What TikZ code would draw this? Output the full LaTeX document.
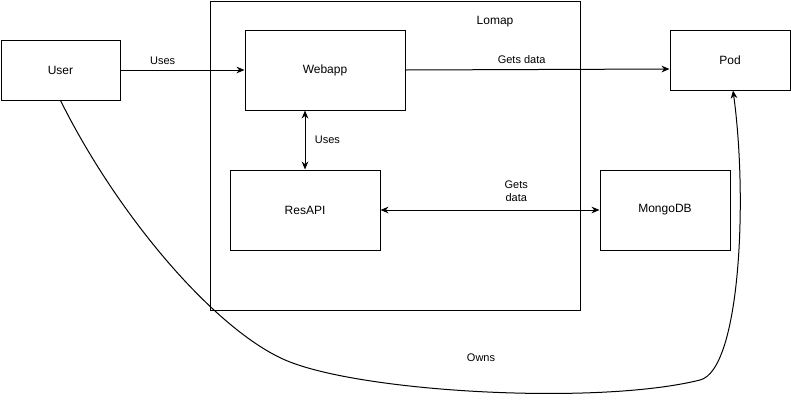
\documentclass[tikz,border=0pt]{standalone}
\usepackage{fontspec}
\setmainfont{Liberation Sans}
\usetikzlibrary{arrows.meta}

\begin{document}
\begin{tikzpicture}[x=0.75pt, y=-0.75pt, line width=0.75pt,
    box/.style={draw, inner sep=0pt, font=\fontsize{9}{11}\selectfont},
    lbl/.style={inner sep=0pt, font=\fontsize{8.25}{9.75}\selectfont},
    >={Stealth[length=6pt, width=5pt]}]
    \useasboundingbox (0,0) rectangle (791,404);

    % Lomap
    \node[box, minimum width=277.5pt, minimum height=231.75pt] (lomap) at (395,155.5) {};
    \node[box, draw=none] (lomaptitle) at (495,22) {Lomap};
    \node[box, minimum width=120pt, minimum height=60pt] (webapp) at (325,70) {Webapp};
    \node[box, minimum width=112.5pt, minimum height=60pt] (resapi) at (305,210) {ResAPI};

    % Outside
    \node[box, minimum width=89.25pt, minimum height=45pt] (user) at (60.5,70) {User};
    \node[box, minimum width=90pt, minimum height=45pt] (pod) at (730,60) {Pod};
    \node[box, minimum width=97.5pt, minimum height=60pt] (mongodb) at (665,210) {MongoDB};

    % Arrows
    \draw[->] (user) -- (webapp) node[lbl, pos=0.34, above=4pt] (usesweb) {Uses};
    \draw[<->] (resapi.north) -- (resapi.north |- webapp.south) node[lbl, midway, right=7pt] (usesapi) {Uses};
    \draw[->] (webapp.east) -- ([yshift=-6.75pt]pod.west) node[lbl, pos=0.44, above=4pt] (getspod) {Gets data};
    \draw[<->] (resapi) -- (mongodb) node[lbl, pos=0.62, above=6pt, align=center] (getsdb) {Gets\\data};
    \draw[->] (user.south) .. controls (120,220) and (220,335) .. (290,362)
        .. controls (370,393) and (600,405) .. (700,380)
        .. controls (740,370) and (748,200) .. ([xshift=2.25pt]pod.south);
    \node[lbl] (owns) at (481,358) {Owns};
\end{tikzpicture}
\end{document}
